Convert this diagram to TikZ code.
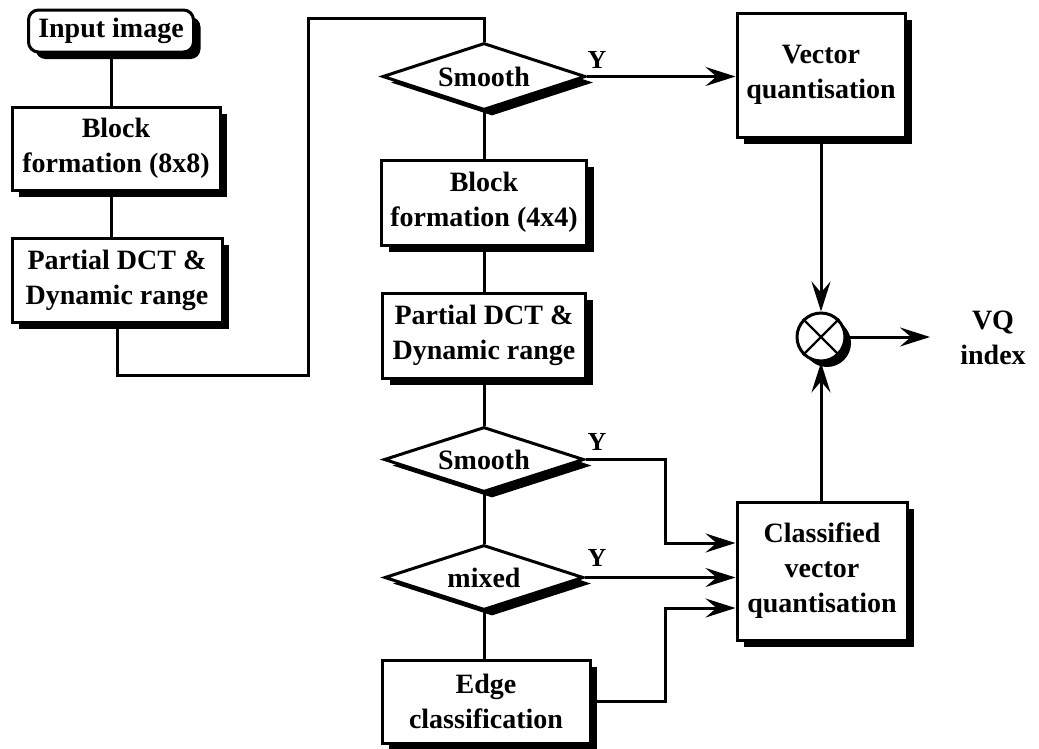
\documentclass[tikz,border=0pt]{standalone}
\usepackage{fontspec}
\setmainfont{Liberation Serif}
\usetikzlibrary{shapes.geometric,shadows,arrows.meta}

\begin{document}
\begin{tikzpicture}[x=1pt,y=-1pt,
  every node/.style={font=\fontsize{28}{35}\selectfont\bfseries, align=center, inner sep=0pt},
  conn/.style={line width=3pt},
  arr/.style={conn, -{Stealth[length=30pt,width=19pt,inset=11pt]}},
  box/.style={draw, line width=3pt, fill=white,
    drop shadow={shadow xshift=7pt, shadow yshift=-7pt, fill=black, opacity=1}},
  decision/.style={diamond, aspect=3, draw, line width=3pt, fill=white,
    drop shadow={shadow xshift=8pt, shadow yshift=-6pt, fill=black, opacity=1}},
  mult/.style={circle, draw, line width=3pt, fill=white, minimum size=48pt,
    drop shadow={shadow xshift=6pt, shadow yshift=-6pt, fill=black, opacity=1}},
  ylab/.style={font=\fontsize{26}{30}\selectfont\bfseries}
]
\useasboundingbox (0,0) rectangle (1039,748);

% left column: 8x8 stage
\node[box, rounded corners=10pt, minimum width=165pt, minimum height=42pt] (in) at (111,31) {Input image};
\node[box, minimum width=208pt, minimum height=83pt] (b8) at (116,148.5) {Block\\formation (8x8)};
\node[box, minimum width=210pt, minimum height=84pt] (p8) at (117,280) {Partial DCT \&\\Dynamic range};

% middle column: decisions and 4x4 stage
\node[decision, minimum width=203pt, minimum height=67pt] (s1) at (484,76.5) {Smooth};
\node[box, minimum width=205pt, minimum height=85pt] (b4) at (484,202.5) {Block\\formation (4x4)};
\node[box, minimum width=203pt, minimum height=85pt] (p4) at (484,335.5) {Partial DCT \&\\Dynamic range};
\node[decision, minimum width=200pt, minimum height=65pt] (s2) at (484,459.5) {Smooth};
\node[decision, minimum width=199pt, minimum height=65pt] (mx) at (484,577.5) {mixed};
\node[box, minimum width=208pt, minimum height=83pt] (ec) at (486,701.5) {Edge\\classification};

% right column: quantisers and combiner
\node[box, minimum width=168pt, minimum height=124pt] (vq) at (821,75) {Vector\\quantisation};
\node[box, minimum width=170pt, minimum height=138pt] (cvq) at (822,571) {Classified\\vector\\quantisation};
\node[mult] (x) at (821,337) {};
\draw[line width=2.2pt] (x.north east) -- (x.south west) (x.north west) -- (x.south east);
\node (out) at (993,338) {VQ\\index};

% routing points
\coordinate (t1) at (308,375);
\coordinate (t2) at (308,18);
\coordinate (j1) at (665,543);
\coordinate (j2) at (665,608);
\coordinate (xo) at (930,337);

% connectors
\draw[conn] (in.south) -- (in.south |- b8.north);
\draw[conn] (in.south |- b8.south) -- (in.south |- p8.north);
\draw[conn] (p8.south) |- (t1) -- (t2) -| (s1.north);
\draw[arr] (s1.east) -- (s1.east -| vq.west);
\draw[conn] (s1.south) -- (b4.north);
\draw[conn] (b4.south) -- (p4.north);
\draw[conn] (p4.south) -- (s2.north);
\draw[conn] (s2.south) -- (mx.north);
\draw[conn] (mx.south) -- (mx.south |- ec.north);
\draw[arr] (s2.east) -| (j1) -- (j1 -| cvq.west);
\draw[arr] (mx.east) -- (mx.east -| cvq.west);
\draw[arr] (ec.east) -| (j2) -- (j2 -| cvq.west);
\draw[arr] (x.north |- vq.south) -- (x.north);
\draw[arr] (x.south |- cvq.north) -- (x.south);
\draw[arr] (x.east) -- (xo);

% branch labels
\node[ylab] (y1) at (597,60) {Y};
\node[ylab] (y2) at (597,442) {Y};
\node[ylab] (y3) at (597,558) {Y};
\end{tikzpicture}
\end{document}
